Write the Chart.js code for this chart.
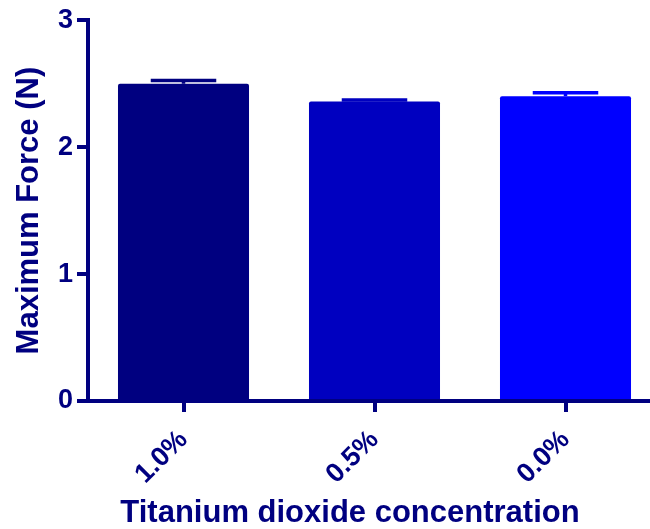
<!DOCTYPE html>
<html>
<head>
<meta charset="utf-8">
<script src="https://cdn.jsdelivr.net/npm/chart.js@4"></script>
<style>
  html, body { margin: 0; padding: 0; background: #fff; overflow: hidden; }
  #wrap { width: 650px; height: 529px; overflow: hidden; }
</style>
</head>
<body>
<div id="wrap"><canvas id="c" width="661" height="529"></canvas></div>
<script>
// Maximum force by titanium dioxide concentration (mean with upper error bar)
const categories = ['1.0%', '0.5%', '0.0%'];
const meanForce = [2.50, 2.36, 2.40];
const errorUp = [0.025, 0.012, 0.028];
const yTicks = [0, 1, 2, 3];
const xTitle = 'Titanium dioxide concentration';

const NAVY = '#000080';
const FONT = 'Liberation Sans, Arial, sans-serif';
const barColors = ['#000080', '#0000C0', '#0000FF'];

// Draws the upper error cap of each bar from its mean and error value
const errorCaps = {
  id: 'errorCaps',
  afterDatasetsDraw(chart) {
    const ctx = chart.ctx;
    const meta = chart.getDatasetMeta(0);
    const yScale = chart.scales.y;
    ctx.save();
    meta.data.forEach((bar, i) => {
      const top = yScale.getPixelForValue(meanForce[i] + errorUp[i]);
      const base = yScale.getPixelForValue(meanForce[i]);
      const half = bar.width / 4;
      ctx.strokeStyle = barColors[i];
      ctx.lineWidth = 3.5;
      ctx.lineCap = 'butt';
      ctx.beginPath();
      ctx.moveTo(bar.x, base);
      ctx.lineTo(bar.x, top);
      ctx.moveTo(bar.x - half, top);
      ctx.lineTo(bar.x + half, top);
      ctx.stroke();
    });
    ctx.restore();
  }
};

// Category axis title, centred under the visible part of the axis
const xAxisTitle = {
  id: 'xAxisTitle',
  afterDraw(chart) {
    const ctx = chart.ctx;
    const area = chart.chartArea;
    const visibleRight = 612;
    ctx.save();
    ctx.fillStyle = NAVY;
    ctx.font = 'bold 31px ' + FONT;
    ctx.textAlign = 'center';
    ctx.textBaseline = 'alphabetic';
    ctx.fillText(xTitle, (area.left + visibleRight) / 2, 522);
    ctx.restore();
  }
};

new Chart(document.getElementById('c'), {
  type: 'bar',
  data: {
    labels: categories,
    datasets: [{
      data: meanForce,
      backgroundColor: barColors,
      borderWidth: 0,
      borderRadius: 2,
      borderSkipped: 'bottom',
      categoryPercentage: 1.0,
      barPercentage: 0.686
    }]
  },
  options: {
    responsive: false,
    animation: false,
    devicePixelRatio: 1,
    layout: { padding: { top: 18, left: 0, right: 0, bottom: 0 } },
    plugins: { legend: { display: false }, tooltip: { enabled: false } },
    scales: {
      x: {
        offset: true,
        grid: { display: true, drawOnChartArea: false, offset: false, tickLength: 11, lineWidth: 4, color: NAVY },
        border: { display: true, width: 4, color: NAVY },
        ticks: {
          color: NAVY,
          font: { family: FONT, size: 27, weight: 'bold' },
          minRotation: 45, maxRotation: 45, padding: 12
        },
        afterFit(scale) { scale.height = 128; }
      },
      y: {
        min: 0, max: 3,
        afterBuildTicks(scale) { scale.ticks = yTicks.map(v => ({ value: v })); },
        grid: { display: true, drawOnChartArea: false, tickLength: 11, lineWidth: 4, color: NAVY },
        border: { display: true, width: 4, color: NAVY },
        ticks: {
          color: NAVY,
          font: { family: FONT, size: 27, weight: 'bold' },
          padding: 4
        },
        title: {
          display: true,
          text: 'Maximum Force (N)',
          color: NAVY,
          font: { family: FONT, size: 31, weight: 'bold', lineHeight: 1 },
          padding: { top: 14, bottom: 0 }
        },
        afterFit(scale) { scale.width = 88; }
      }
    }
  },
  plugins: [errorCaps, xAxisTitle]
});
</script>
</body>
</html>
